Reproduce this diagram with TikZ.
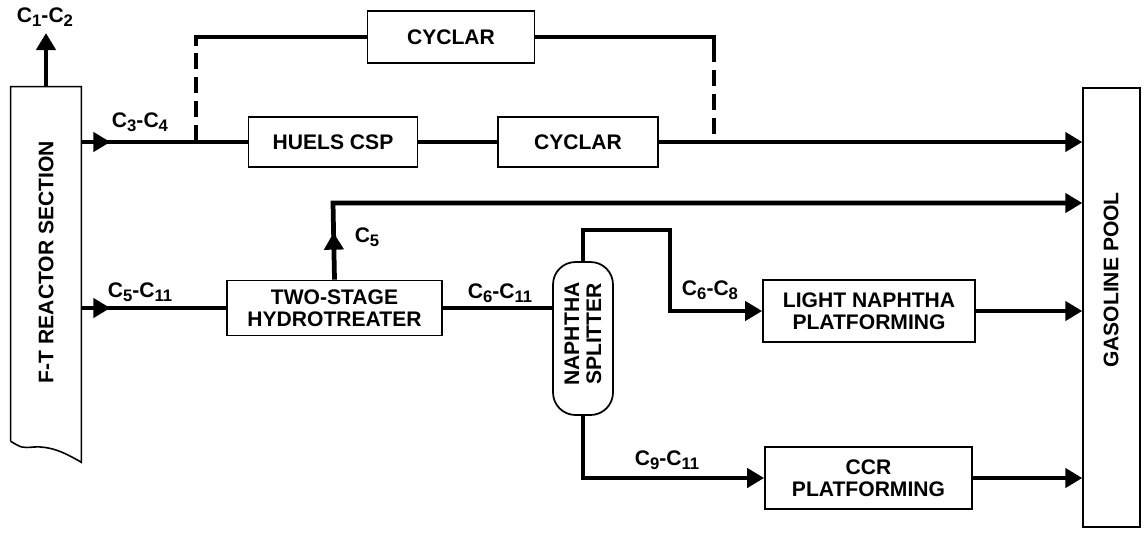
\documentclass[tikz,border=0pt]{standalone}
\usepackage{fontspec}
\setmainfont{Liberation Sans}
\usetikzlibrary{arrows.meta, positioning, decorations.markings}
\newcommand{\Cn}[1]{C\raisebox{-0.4ex}{\fontsize{9.5}{9.5}\selectfont #1}}

\begin{document}
\begin{tikzpicture}[
    x=0.02cm, y=-0.02cm,
    box/.style={rectangle, draw=black, line width=1pt, inner sep=0pt,
                font=\fontsize{12}{12.5}\selectfont\bfseries, align=center},
    lbl/.style={font=\fontsize{12}{12.5}\selectfont\bfseries, inner sep=0pt, align=center},
    flow/.style={line width=2.7pt, draw=black},
    arr/.style={flow, -{Triangle[length=0.34cm, width=0.38cm]}},
    midarr/.style={flow, postaction={decorate},
                   decoration={markings, mark=at position #1 with {\arrow{Triangle[length=0.34cm, width=0.38cm]}}}},
    dashflow/.style={line width=2.7pt, draw=black, dash pattern=on 0.32cm off 0.16cm}
  ]
  \useasboundingbox (0,0) rectangle (1148,535);

  % reactor and pool
  \node[minimum width=1.4cm, minimum height=7.08cm, inner sep=0pt] (ft) at (46,264) {};
  \draw[line width=0.9pt] (ft.south west) -- (ft.north west) -- (ft.north east) -- (ft.south east) -- ++(0,21)
    .. controls (64,452) and (50,446) .. (34,447) .. controls (22,448) .. (ft.south west);
  \node[lbl, rotate=90] (fttext) at (46,262) {F-T REACTOR SECTION};
  \node[box, line width=0.8pt, minimum width=1.14cm, minimum height=8.78cm] (pool) at (1111.5,307.5) {};
  \node[lbl, rotate=90] (pooltext) at (1111,280) {GASOLINE POOL};

  % process units
  \node[box, minimum width=3.34cm, minimum height=1.04cm] (cyctop) at (451,37) {CYCLAR};
  \node[box, minimum width=3.38cm, minimum height=1.0cm] (huels) at (333,142) {HUELS CSP};
  \node[box, minimum width=3.2cm, minimum height=1.0cm] (cyc) at (578,142) {CYCLAR};
  \node[box, minimum width=4.3cm, minimum height=1.1cm] (hydro) at (334.5,308) {TWO-STAGE\\HYDROTREATER};
  \node[box, rounded corners=0.45cm, minimum width=1.2cm, minimum height=3.06cm] (split) at (583,338.5) {};
  \node[lbl, rotate=90] (splittext) at (583,334) {NAPHTHA\\SPLITTER};
  \node[box, minimum width=4.24cm, minimum height=1.24cm] (light) at (869,311) {LIGHT NAPHTHA\\PLATFORMING};
  \node[box, minimum width=4.14cm, minimum height=1.24cm] (ccr) at (868.5,478) {CCR\\PLATFORMING};

  % bends
  \coordinate (c12) at (46,33);
  \coordinate (jl) at (196,141);
  \coordinate (jlm) at (196,46);
  \coordinate (tl) at (196,37);
  \coordinate (tr) at (714,37);
  \coordinate (trm) at (714,46);
  \coordinate (jr) at (714,141);
  \coordinate (c5top) at (333,203);
  \coordinate (bend) at (670,230);

  % streams
  \draw[arr] (ft.north) -- (c12);
  \draw[midarr=0.58cm] (ft.east |- huels) -- (huels.west);
  \draw[flow] (huels.east) -- (cyc.west);
  \draw[arr] (cyc.east) -- (pool.west |- cyc);
  \draw[dashflow] (jl) -- (jlm);
  \draw[flow] (jlm) -- (tl) -- (cyctop.west);
  \draw[flow] (cyctop.east) -- (tr) -- (trm);
  \draw[dashflow] (trm) -- (jr);
  \draw[arr, midarr=0.94cm] (hydro.north) -- (c5top) -- (pool.west |- c5top);
  \draw[midarr=0.58cm] (ft.east |- hydro) -- (hydro.west);
  \draw[flow] (hydro.east) -- (split.west |- hydro);
  \draw[arr] (split.north) |- (bend) |- (light.west);
  \draw[arr] (split.south) |- (ccr.west);
  \draw[arr] (light.east) -- (pool.west |- light);
  \draw[arr] (ccr.east) -- (pool.west |- ccr);

  % stream labels
  \node[lbl] (l12) at (45,17) {\Cn{1}-\Cn{2}};
  \node[lbl] (l34) at (140,122) {\Cn{3}-\Cn{4}};
  \node[lbl] (l511) at (140,292) {\Cn{5}-\Cn{11}};
  \node[lbl] (l5) at (367,237) {\Cn{5}};
  \node[lbl] (l611) at (500,293) {\Cn{6}-\Cn{11}};
  \node[lbl] (l68) at (710,290) {\Cn{6}-\Cn{8}};
  \node[lbl] (l911) at (667,460) {\Cn{9}-\Cn{11}};
\end{tikzpicture}
\end{document}
